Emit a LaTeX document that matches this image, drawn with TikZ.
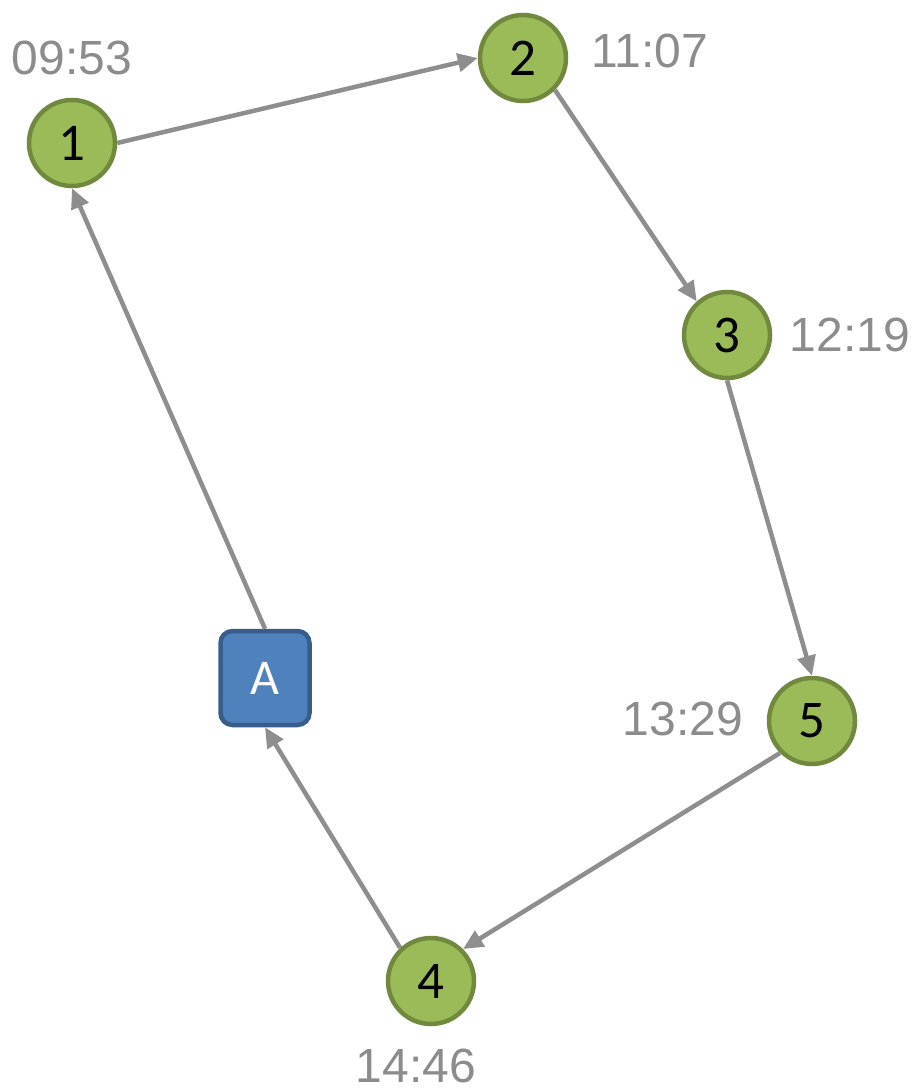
\documentclass[tikz,border=0pt]{standalone}
\usepackage{fontspec}
\setmainfont{Liberation Sans}
\newfontfamily\nodefont{Carlito}
\usetikzlibrary{arrows.meta}
\definecolor{gfill}{HTML}{9BBB59}
\definecolor{gline}{HTML}{71893F}
\definecolor{bfill}{HTML}{4F81BD}
\definecolor{bline}{HTML}{385D8A}
\definecolor{edgegray}{HTML}{8E8E8E}
\definecolor{labgray}{HTML}{8C8C8C}
\begin{document}
\begin{tikzpicture}[x=1pt,y=-1pt,
  stop/.style={circle,draw=gline,fill=gfill,line width=4.5pt,minimum size=86pt,inner sep=0pt,
    font=\nodefont\fontsize{53}{56}\selectfont,text=black},
  depot/.style={rectangle,rounded corners=12pt,draw=bline,fill=bfill,line width=4.5pt,
    minimum width=89pt,minimum height=94pt,inner sep=0pt,font=\nodefont\fontsize{50}{54}\selectfont,text=white},
  tlabel/.style={text=labgray,font=\fontsize{48}{52}\selectfont,inner sep=0pt},
  edge/.style={draw=edgegray,line width=4.5pt,-{Triangle[length=20pt,width=18pt]}}]
\useasboundingbox (0,0) rectangle (915,1091);
\node[stop] (n1) at (72,143) {1};
\node[stop] (n2) at (523,58) {2};
\node[stop] (n3) at (727,335) {3};
\node[stop] (n5) at (812,721) {5};
\node[stop] (n4) at (431,981) {4};
\node[depot] (a) at (265,678) {A};
\node[tlabel] (l1) at (72,58) {09:53};
\node[tlabel] (l2) at (650,51) {11:07};
\node[tlabel] (l3) at (850,335) {12:19};
\node[tlabel] (l5) at (683,719) {13:29};
\node[tlabel] (l4) at (416,1066) {14:46};
\draw[edge] (n1.east) -- (n2.west);
\draw[edge] (n2.-45) -- (n3.132);
\draw[edge] (n3.south) -- (n5.north);
\draw[edge] (n5.225) -- (n4.45);
\draw[edge] (n4.133) -- (a.south);
\draw[edge] (a.north) -- (n1.south);
\end{tikzpicture}
\end{document}
